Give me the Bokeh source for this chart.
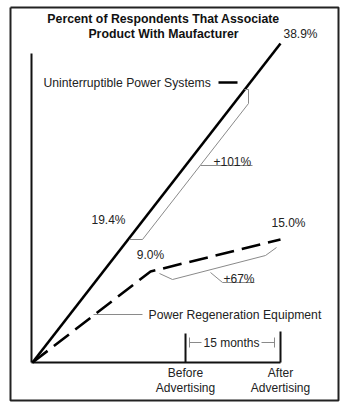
from bokeh.plotting import figure
from bokeh.models import Range1d
from bokeh.core.properties import value
from bokeh.embed import file_html
from bokeh.resources import INLINE

# ---- data (x: 0 = start, 1 = after advertising; y: percent) ----
ups_x = [0.0, 1.0]
ups_y = [0.0, 38.9]
prg_x = [0.0, 0.476, 1.0]
prg_y = [0.0, 11.1, 15.0]
series_names = ["Uninterruptible Power Systems", "Power Regeneration Equipment"]
value_labels = ["19.4%", "38.9%", "9.0%", "15.0%"]
change_labels = ["+101%", "+67%"]
stage_labels = ["Before\nAdvertising", "After\nAdvertising"]
stage_x = [0.617, 1.0]
title_lines = ["Percent of Respondents That Associate", "Product With Maufacturer"]
interval_label = "15 months"

# helpers: page-pixel -> data coordinates (layout only)
def X(px):
    return (px - 32) / 248.0

def Y(py):
    return (362 - py) / 8.2

OX, OY = 0, 0   # page offset of the figure
W, H = 360, 404
p = figure(width=W, height=H, output_backend="svg", toolbar_location=None,
           x_range=Range1d(X(OX), X(OX + W)), y_range=Range1d(Y(OY + H), Y(OY)),
           x_axis_location=None, y_axis_location=None, min_border=0,
           outline_line_color=None, background_fill_color="white")
p.xgrid.visible = False
p.ygrid.visible = False

FONT = value("Liberation Sans")
GREY = "#8a8a8a"

# frame border
p.line([X(10), X(338), X(338), X(10), X(10)],
       [Y(7), Y(7), Y(400), Y(400), Y(7)], line_color="#222", line_width=2)

# axes
p.line([X(31), X(31)], [Y(53), 0], line_color="#111", line_width=2)
p.line([X(31), stage_x[1]], [0, 0], line_color="#111", line_width=2)
p.line([stage_x[0], stage_x[0]], [0, Y(333)], line_color="#111", line_width=2)
p.line([stage_x[1], stage_x[1]], [0, Y(331)], line_color="#111", line_width=2)

# data lines
p.line(ups_x, ups_y, line_color="black", line_width=2.6)
p.line(prg_x, prg_y, line_color="black", line_width=2.6, line_dash="19 8")

# annotation brackets (grey)
p.line([X(244), X(248), X(248), X(142), X(129)],
       [Y(89), Y(89), Y(103), Y(239), Y(239)], line_color=GREY, line_width=1)
p.line([X(200), X(252)], [Y(165), Y(165)], line_color=GREY, line_width=1)
p.line([X(159), X(172), X(265), X(276)],
       [Y(273), Y(279), Y(255), Y(247)], line_color=GREY, line_width=1)
p.line([X(210), X(222), X(254)], [Y(272), Y(282), Y(282)], line_color=GREY, line_width=1)
p.line([X(93), X(142)], [Y(314), Y(314)], line_color=GREY, line_width=1)
# UPS leader
p.line([X(218), X(237)], [Y(82), Y(82)], line_color="black", line_width=2.5)
# 15 months interval
p.line([X(189), X(201)], [Y(342), Y(342)], line_color=GREY, line_width=1)
p.line([X(261), X(274)], [Y(342), Y(342)], line_color=GREY, line_width=1)
p.line([X(189), X(189)], [Y(337), Y(347)], line_color=GREY, line_width=1)
p.line([X(274), X(274)], [Y(337), Y(347)], line_color=GREY, line_width=1)

def txt(x, y, s, align="center", size="12px", style="normal", color="#222"):
    p.text(x=[x], y=[y], text=[s], text_font=FONT, text_font_size=size,
           text_align=align, text_baseline="middle", text_font_style=style,
           text_color=color)

# title
txt(X(163), Y(18), title_lines[0], size="12.3px", style="bold", color="#111")
txt(X(163), Y(33), title_lines[1], size="12.3px", style="bold", color="#111")

# series labels
txt(X(43), Y(82), series_names[0], align="left", size="12.2px")
txt(X(148), Y(314), series_names[1], align="left", size="12.2px")

# value labels
txt(X(108), Y(219), value_labels[0])
txt(X(300), Y(33), value_labels[1])
txt(X(150), Y(254), value_labels[2])
txt(X(288), Y(222), value_labels[3])

# change labels
txt(X(213), Y(161), change_labels[0], align="left")
txt(X(223), Y(278), change_labels[1], align="left")

# interval
txt(X(231), Y(342), interval_label)

# stage labels
for sx, lab in zip(stage_x, stage_labels):
    a, b = lab.split("\n")
    txt(sx, Y(372), a)
    txt(sx, Y(387), b)

open("out.html", "w").write(file_html(p, INLINE))
